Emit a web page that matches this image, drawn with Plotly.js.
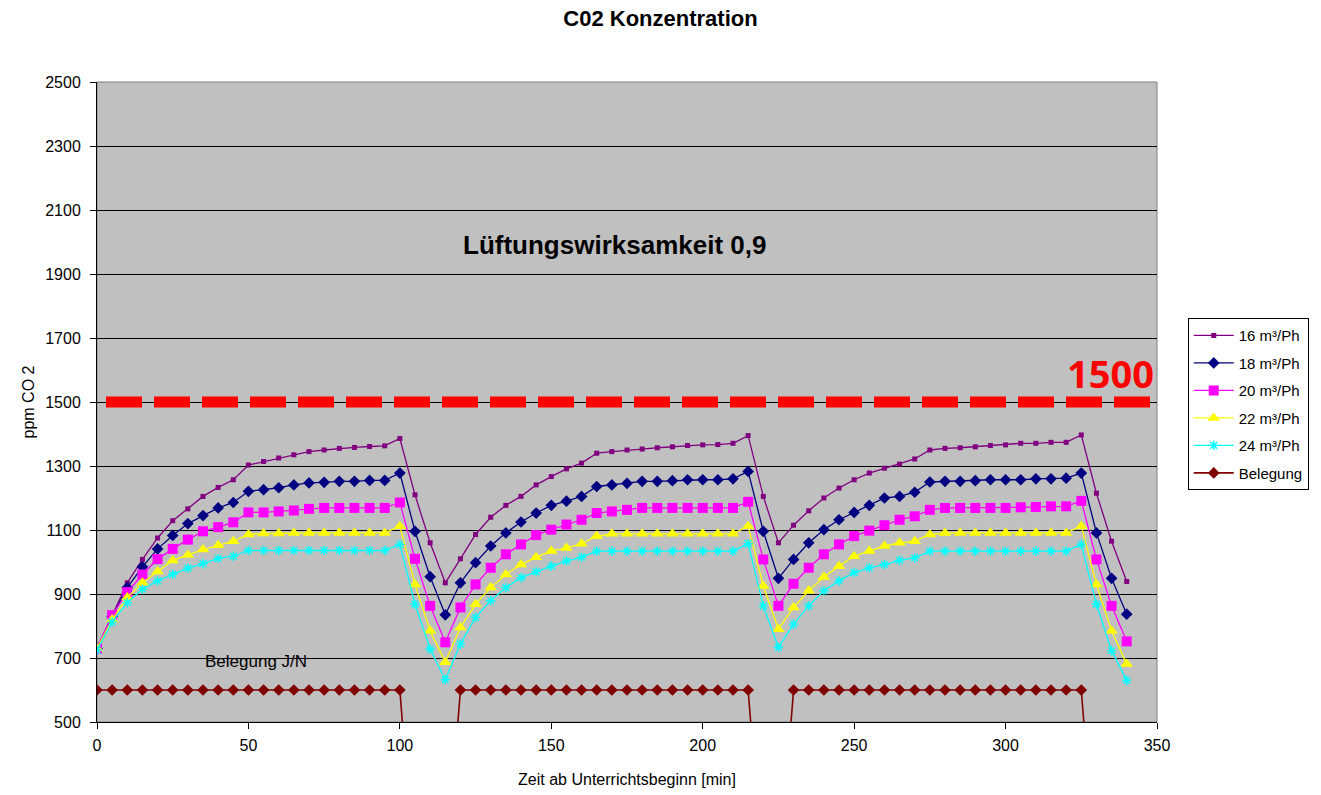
<!DOCTYPE html>
<html>
<head>
<meta charset="utf-8">
<script src="https://cdn.plot.ly/plotly-3.0.1.min.js"></script>
<style>html,body{margin:0;padding:0;background:#fff;}#chart{width:1321px;height:795px;}</style>
</head>
<body>
<div id="chart"></div>
<script>
// Time axis (minutes after start of lessons)
const minutes = [0,5,10,15,20,25,30,35,40,45,50,55,60,65,70,75,80,85,90,95,100,105,110,115,120,125,130,135,140,145,150,155,160,165,170,175,180,185,190,195,200,205,210,215,220,225,230,235,240,245,250,255,260,265,270,275,280,285,290,295,300,305,310,315,320,325,330,335,340];

const seriesNames = ["16 m³/Ph","18 m³/Ph","20 m³/Ph","22 m³/Ph","24 m³/Ph","Belegung"];

const co2_16 = [730,835,935,1008,1075,1129,1166,1205,1233,1257,1303,1314,1325,1335,1345,1350,1355,1358,1361,1363,1386,1210,1060,935,1010,1086,1140,1177,1205,1241,1267,1291,1309,1340,1345,1350,1353,1357,1360,1364,1366,1367,1371,1395,1205,1060,1115,1160,1200,1231,1257,1278,1293,1306,1322,1350,1355,1357,1360,1364,1366,1371,1371,1374,1374,1397,1215,1065,939];
const co2_18 = [730,830,920,985,1041,1083,1120,1145,1169,1186,1221,1226,1232,1241,1247,1249,1252,1252,1255,1255,1278,1096,954,835,935,998,1050,1091,1125,1153,1177,1190,1205,1236,1241,1246,1252,1252,1254,1257,1257,1257,1260,1283,1096,949,1008,1060,1101,1132,1155,1177,1200,1205,1218,1250,1252,1252,1254,1257,1257,1257,1260,1260,1262,1278,1091,949,837];
const co2_20 = [730,834,906,961,1009,1041,1070,1096,1109,1124,1155,1155,1158,1161,1166,1169,1169,1169,1169,1169,1186,1010,863,749,858,930,982,1024,1055,1084,1101,1117,1132,1153,1158,1163,1169,1169,1169,1169,1169,1169,1169,1188,1008,863,932,982,1024,1055,1081,1098,1115,1132,1143,1163,1169,1169,1169,1169,1169,1171,1172,1174,1174,1191,1008,863,752];
const co2_22 = [730,820,889,935,970,1005,1022,1039,1052,1065,1086,1089,1089,1091,1091,1091,1091,1091,1091,1091,1112,930,785,687,795,868,920,961,992,1015,1034,1044,1057,1081,1088,1088,1088,1088,1088,1088,1088,1088,1088,1112,925,790,858,910,953,987,1018,1034,1050,1060,1065,1086,1091,1091,1091,1091,1091,1091,1091,1091,1091,1112,930,785,681];
const co2_24 = [725,813,873,915,941,961,981,995,1011,1018,1036,1036,1036,1036,1036,1036,1036,1036,1036,1036,1055,868,728,632,744,827,879,920,951,970,987,1003,1015,1034,1034,1034,1034,1034,1034,1034,1034,1034,1034,1057,863,733,806,863,910,941,967,982,992,1005,1013,1034,1034,1034,1034,1034,1034,1034,1034,1034,1034,1055,868,723,630];
// Occupancy (J = 600 on the chart scale, N = 0)
const belegung = [600,600,600,600,600,600,600,600,600,600,600,600,600,600,600,600,600,600,600,600,600,0,0,0,600,600,600,600,600,600,600,600,600,600,600,600,600,600,600,600,600,600,600,600,0,0,600,600,600,600,600,600,600,600,600,600,600,600,600,600,600,600,600,600,600,600,0,0,0];

const LIMIT = 1500;
const yTicks = [500,700,900,1100,1300,1500,1700,1900,2100,2300,2500];
const xTicks = [0,50,100,150,200,250,300,350];

const FONT = "Liberation Sans, Arial, sans-serif";

const styles = [
  {color:"#800080", symbol:"square", size:5, width:1.3},
  {color:"#000080", symbol:"diamond", size:9, width:1.3},
  {color:"#FF00FF", symbol:"square", size:10, width:1.3},
  {color:"#FFFF00", symbol:"triangle-up", size:11, width:1.3},
  {color:"#00FFFF", symbol:"asterisk-open", size:8, width:1.3},
  {color:"#800000", symbol:"diamond", size:9, width:1.6}
];
const values = [co2_16, co2_18, co2_20, co2_22, co2_24, belegung];

const traces = values.map((v, i) => ({
  type: "scatter",
  mode: "lines+markers",
  x: minutes,
  y: v,
  name: seriesNames[i],
  legendgroup: "g" + i,
  line: {color: styles[i].color, width: styles[i].width},
  marker: {
    color: styles[i].color,
    symbol: styles[i].symbol,
    size: styles[i].size,
    line: {color: styles[i].color, width: styles[i].symbol === "asterisk-open" ? 1.4 : 0}
  }
}));

const layout = {
  width: 1321,
  height: 795,
  paper_bgcolor: "#FFFFFF",
  plot_bgcolor: "#C0C0C0",
  margin: {l: 97, r: 164, t: 82, b: 73},
  font: {family: FONT, color: "#000", size: 16},
  title: {
    text: "<b>C02 Konzentration</b>",
    font: {family: FONT, size: 22, color: "#000"},
    x: 0.5, xref: "container", xanchor: "center",
    y: 1 - 18/795, yref: "container", yanchor: "middle"
  },
  xaxis: {
    range: [0, 350],
    tickvals: xTicks,
    showgrid: false,
    zeroline: false,
    showline: true,
    linecolor: "#000",
    linewidth: 1,
    ticks: "outside",
    ticklen: 6,
    tickcolor: "#000",
    ticklabelstandoff: 3,
    tickfont: {family: FONT, size: 16, color: "#000"},
    title: {text: "Zeit ab Unterrichtsbeginn [min]", font: {family: FONT, size: 16, color: "#000"}, standoff: 20}
  },
  yaxis: {
    range: [500, 2500],
    tickvals: yTicks,
    showgrid: true,
    gridcolor: "#000",
    gridwidth: 1,
    zeroline: false,
    showline: true,
    linecolor: "#000",
    linewidth: 1,
    ticks: "outside",
    ticklen: 6,
    tickcolor: "#000",
    ticklabelstandoff: 6,
    tickfont: {family: FONT, size: 16, color: "#000"},
    title: {text: "ppm CO 2", font: {family: FONT, size: 16, color: "#000"}, standoff: 6}
  },
  legend: {
    x: 1.029, xanchor: "left",
    y: 0.631, yanchor: "top",
    bgcolor: "#FFFFFF",
    bordercolor: "#000",
    borderwidth: 1,
    traceorder: "grouped",
    tracegroupgap: 5,
    itemwidth: 40,
    font: {family: FONT, size: 15, color: "#000"}
  },
  shapes: [
    {type: "rect", xref: "paper", yref: "paper", x0: 0, x1: 1, y0: 0, y1: 1,
     line: {color: "#808080", width: 1}, layer: "between"},
    {type: "line", xref: "x", yref: "y", x0: 0, x1: 350, y0: LIMIT, y1: LIMIT,
     line: {color: "#FF0000", width: 11, dash: "0px,9px,36px,3px"}, layer: "above"}
  ],
  annotations: [
    {text: "<b>Lüftungswirksamkeit 0,9</b>", xref: "x", yref: "y", x: 171, y: 1990,
     showarrow: false, font: {family: FONT, size: 26, color: "#000"}},
    {text: "Belegung J/N", xref: "x", yref: "y", x: 52.5, y: 690,
     showarrow: false, font: {family: FONT, size: 17, color: "#000"}},
    {text: "<b>" + LIMIT + "</b>", xref: "paper", yref: "y", x: 1, y: LIMIT,
     xanchor: "right", yanchor: "middle", xshift: -1, yshift: 29, showarrow: false,
     font: {family: "Open Sans, Liberation Sans, sans-serif", size: 38, color: "#FF0000"}}
  ]
};

Plotly.newPlot("chart", traces, layout, {displayModeBar: false, responsive: false});
</script>
</body>
</html>
